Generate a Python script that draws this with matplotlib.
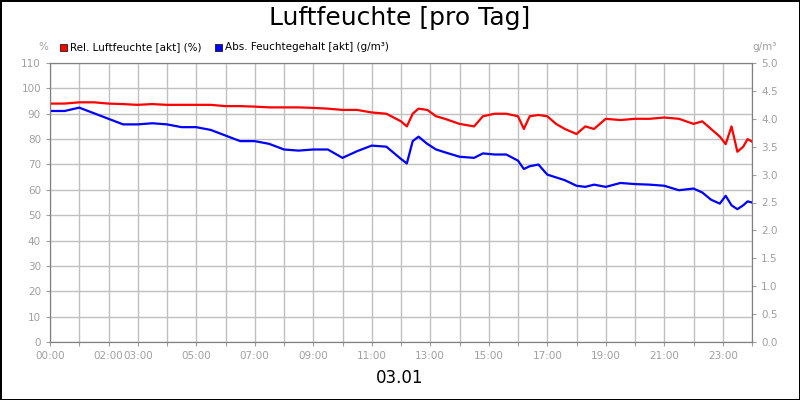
import matplotlib
matplotlib.use("Agg")
import matplotlib.pyplot as plt
import numpy as np

# hours of day
hours = [0, 0.5, 1, 1.5, 2, 2.5, 3, 3.5, 4, 4.5, 5, 5.5, 6, 6.5, 7, 7.5, 8, 8.5, 9, 9.5,
         10, 10.5, 11, 11.5, 12, 12.2, 12.4, 12.6, 12.9, 13.2, 13.5, 14, 14.5, 14.8, 15.2,
         15.6, 16, 16.2, 16.4, 16.7, 17, 17.3, 17.6, 18, 18.3, 18.6, 19, 19.5, 20, 20.5,
         21, 21.5, 22, 22.3, 22.6, 22.9, 23.1, 23.3, 23.5, 23.7, 23.85, 24]
rel_humidity = [94, 94, 94.5, 94.5, 94, 93.8, 93.5, 93.8, 93.5, 93.5, 93.5, 93.5, 93, 93, 92.8, 92.5, 92.5, 92.5, 92.3, 92,
                91.5, 91.5, 90.5, 90, 87, 85, 90, 92, 91.5, 89, 88, 86, 85, 89, 90,
                90, 89, 84, 89, 89.5, 89, 86, 84, 82, 85, 84, 88, 87.5, 88, 88,
                88.5, 88, 86, 87, 84, 81, 78, 85, 75, 77, 80, 79]
abs_humidity = [4.14, 4.14, 4.2, 4.1, 4.0, 3.9, 3.9, 3.92, 3.9, 3.85, 3.85, 3.8, 3.7, 3.6, 3.6, 3.55, 3.45, 3.43, 3.45, 3.45,
                3.3, 3.42, 3.52, 3.5, 3.28, 3.2, 3.6, 3.68, 3.55, 3.45, 3.4, 3.32, 3.3, 3.38, 3.36,
                3.36, 3.25, 3.1, 3.15, 3.18, 3.0, 2.95, 2.9, 2.8, 2.78, 2.82, 2.78, 2.85, 2.83, 2.82,
                2.8, 2.72, 2.75, 2.68, 2.55, 2.48, 2.62, 2.45, 2.38, 2.45, 2.52, 2.5]

tick_hours = [0, 2, 3, 5, 7, 9, 11, 13, 15, 17, 19, 21, 23]
tick_labels = ["%02d:00" % h for h in tick_hours]
grid_col = "#c0c0c0"
txt_col = "#a0a0a0"

fig = plt.figure(figsize=(8, 4), dpi=100)
fig.patch.set_edgecolor("black")
fig.patch.set_linewidth(2)
ax = fig.add_axes([50/800, 58/400, 702/800, 279/400])
ax2 = ax.twinx()

ax.plot(hours, rel_humidity, color="#ff0000", lw=1.6)
ax2.plot(hours, abs_humidity, color="#0000ff", lw=1.6)

ax.set_xlim(0, 24)
ax.set_ylim(0, 110)
ax2.set_ylim(0, 5.0)
ax.set_yticks(np.arange(0, 111, 10))
ax2.set_yticks(np.arange(0, 5.01, 0.5))
ax2.set_yticklabels(["%.1f" % v for v in np.arange(0, 5.01, 0.5)])
ax.set_xticks(range(25), minor=False)
ax.set_xticklabels([tick_labels[tick_hours.index(h)] if h in tick_hours else "" for h in range(25)])
ax.grid(True, color=grid_col, lw=1)
for a in (ax, ax2):
    a.tick_params(colors=txt_col, labelsize=7.5, length=3, labelcolor=txt_col)
    for s in a.spines.values():
        s.set_color("#808080")

fig.text(0.5, 0.955, "Luftfeuchte [pro Tag]", ha="center", va="center", fontsize=18)
fig.text(0.5, 0.055, "03.01", ha="center", va="center", fontsize=12)
fig.text(43/800, 0.875, "%", ha="center", color=txt_col, fontsize=7.5)
fig.text(765/800, 0.875, "g/m³", ha="center", color=txt_col, fontsize=7.5)

fig.patches.append(plt.Rectangle((60/800, 349/400), 7/800, 7/400, transform=fig.transFigure,
                                 facecolor="#ff0000", edgecolor="black", lw=0.5))
fig.text(70/800, 0.875, "Rel. Luftfeuchte [akt] (%)", fontsize=7.5)
fig.patches.append(plt.Rectangle((215/800, 349/400), 7/800, 7/400, transform=fig.transFigure,
                                 facecolor="#0000ff", edgecolor="black", lw=0.5))
fig.text(225/800, 0.875, "Abs. Feuchtegehalt [akt] (g/m³)", fontsize=7.5)

fig.savefig("out.png", dpi=100, edgecolor=fig.get_edgecolor())
